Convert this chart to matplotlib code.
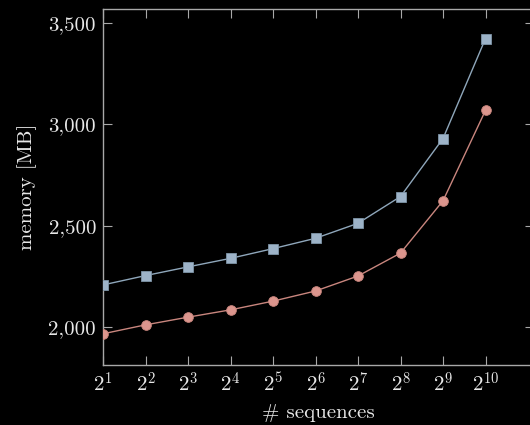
import numpy as np
import matplotlib
matplotlib.use('Agg')
import matplotlib.pyplot as plt
from matplotlib.ticker import FuncFormatter, FixedLocator

# data
seqs = [2, 4, 8, 16, 32, 64, 128, 256, 512, 1024]
mem_a = [2208, 2254, 2297, 2339, 2387, 2438, 2512, 2644, 2930, 3423]
mem_b = [1967, 2011, 2049, 2085, 2128, 2178, 2252, 2365, 2623, 3069]
yticks = [2000, 2500, 3000, 3500]

plt.rcParams['font.family'] = 'serif'
plt.rcParams['font.serif'] = ['cmr10', 'DejaVu Serif']
plt.rcParams['mathtext.fontset'] = 'cm'
plt.rcParams['axes.formatter.use_mathtext'] = True

fg = '#e8e8e8'
spine = '#a8a8a8'

fig = plt.figure(figsize=(5.30, 4.25), dpi=100, facecolor='black')
# right edge of the axes sits just past the figure edge, as in the reference
ax = fig.add_axes([103 / 530, 1 - 365 / 425, (534 - 103) / 530, (365 - 9) / 425])
ax.set_facecolor('black')

ax.plot(seqs, mem_a, color='#8fa7bb', lw=1.0, marker='s', ms=7,
        mfc='#9db3c8', mec='#7f95a8', mew=0.6, zorder=3)
ax.plot(seqs, mem_b, color='#c9867e', lw=1.0, marker='o', ms=7,
        mfc='#dc968e', mec='#c9867e', mew=0.6, zorder=3)

ax.set_xscale('log', base=2)
ax.set_xlim(2, 2 ** (1 + (534 - 103) / 42.5))
ax.set_ylim(1813, 3569)

ax.xaxis.set_major_locator(FixedLocator(seqs))
ax.xaxis.set_minor_locator(FixedLocator([]))
ax.xaxis.set_major_formatter(FuncFormatter(lambda v, p: r'$2^{%d}$' % round(np.log2(v))))
ax.yaxis.set_major_locator(FixedLocator(yticks))
ax.yaxis.set_major_formatter(FuncFormatter(lambda v, p: f'{int(v):,}'))

for s in ax.spines.values():
    s.set_color(spine)
    s.set_linewidth(1.0)
ax.tick_params(which='both', direction='in', length=6.5, width=0.8, color=spine,
               top=True, right=True, labelsize=15, labelcolor=fg, pad=5)

ax.set_xlabel('# sequences', fontsize=15, color=fg, labelpad=6)
ax.set_ylabel('memory [MB]', fontsize=15, color=fg, labelpad=8)

fig.savefig('out.png', dpi=100, facecolor='black')
